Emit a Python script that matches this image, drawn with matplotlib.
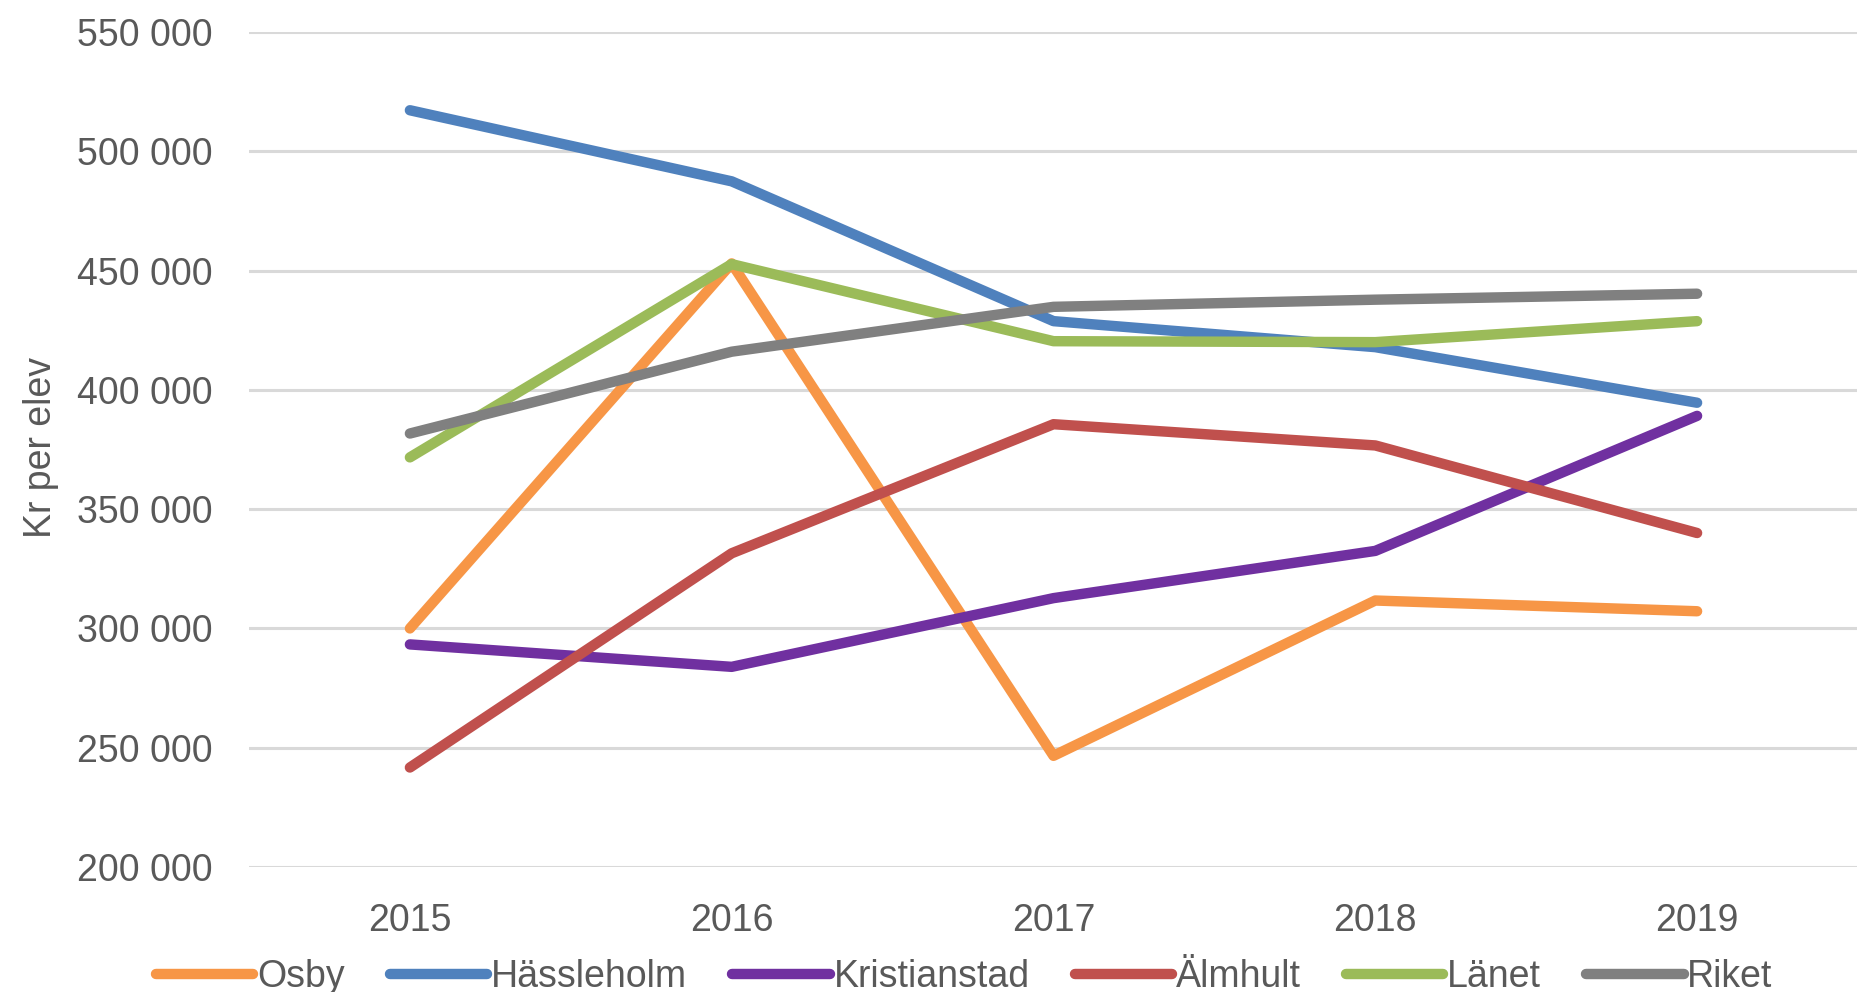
import matplotlib.pyplot as plt
from matplotlib.ticker import FuncFormatter

plt.rcParams['font.family'] = ['Liberation Sans', 'DejaVu Sans']

years = ["2015", "2016", "2017", "2018", "2019"]

osby = [300000, 453000, 246600, 311700, 307200]
hassleholm = [517200, 487400, 428800, 417900, 394600]
kristianstad = [293300, 283900, 312700, 332500, 389100]
almhult = [241700, 331500, 385600, 376700, 340000]
lanet = [371700, 452700, 420400, 420000, 428800]
riket = [381700, 416000, 434800, 437800, 440300]

series = [
    ("Osby", osby, "#F79646"),
    ("Hässleholm", hassleholm, "#4F81BD"),
    ("Kristianstad", kristianstad, "#7030A0"),
    ("Älmhult", almhult, "#C0504D"),
    ("Länet", lanet, "#9BBB59"),
    ("Riket", riket, "#808080"),
]

text_col = "#595959"
fs = 27

fig = plt.figure(figsize=(18.58, 9.92), dpi=100)
ax = fig.add_axes([249 / 1858, 125 / 992, 1 - 249 / 1858, 835 / 992])

x = range(len(years))
for name, vals, col in series:
    ax.plot(x, vals, color=col, lw=7.5, label=name,
            solid_capstyle="round", solid_joinstyle="round")

ax.set_xlim(-0.5, len(years) - 0.5)
ax.set_ylim(200000, 550000)
ax.set_yticks(range(200000, 550001, 50000))
ax.yaxis.set_major_formatter(FuncFormatter(lambda v, p: f"{int(v):,}".replace(",", " ")))
ax.set_xticks(list(x))
ax.set_xticklabels(years)

ax.grid(axis="y", color="#D9D9D9", lw=2.2)
ax.set_axisbelow(True)
for s in ax.spines.values():
    s.set_visible(False)
ax.tick_params(axis="both", length=0, labelsize=fs, colors=text_col)
ax.tick_params(axis="y", pad=26)
ax.tick_params(axis="x", pad=26)

ax.set_ylabel("Kr per elev", fontsize=fs, color=text_col, va="center")
ax.yaxis.set_label_coords(-0.129, 0.502)

fig.legend(loc="center", bbox_to_anchor=(0.519, 0.015), ncol=6, frameon=False,
           fontsize=fs, labelcolor=text_col, handlelength=2.6,
           handletextpad=0.1, columnspacing=1.2)

fig.savefig("out.png", dpi=100)
